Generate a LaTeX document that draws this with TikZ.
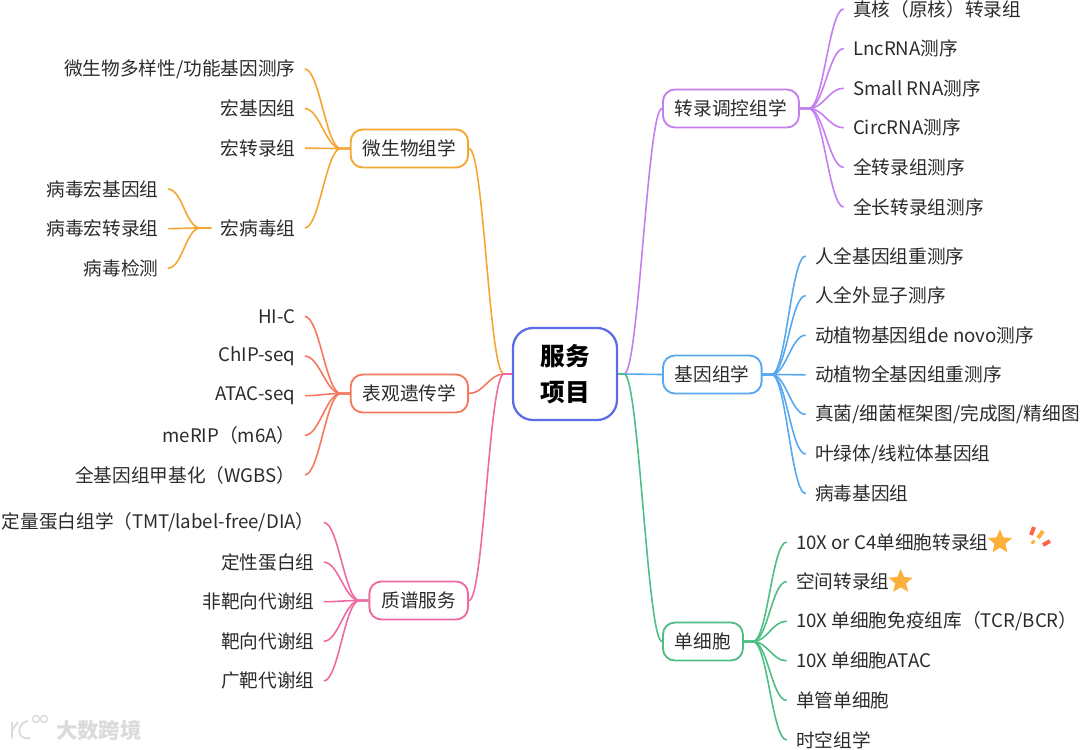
\documentclass[tikz,border=0pt]{standalone}
\usepackage{fontspec}
\setmainfont{Noto Sans CJK SC}
\usetikzlibrary{positioning,shapes.geometric}
\definecolor{Indigo}{HTML}{5B6CE8}
\definecolor{Violet}{HTML}{C47FEE}
\definecolor{Sky}{HTML}{58A8F0}
\definecolor{Mint}{HTML}{4FBE86}
\definecolor{Amber}{HTML}{F5A632}
\definecolor{Coral}{HTML}{F4795F}
\definecolor{Rose}{HTML}{EF6AA2}
\definecolor{Ink}{HTML}{2B2B2B}
\definecolor{Star}{HTML}{FBB03B}
\begin{document}
\begin{tikzpicture}[x=.75pt,y=-.75pt,
 root/.style={rounded corners=15pt,draw=Indigo,line width=1.7pt,minimum width=78pt,minimum height=69pt,align=center,text=black,font=\fontsize{18.5}{27}\selectfont\bfseries},
 hub/.style={rounded corners=9pt,draw=#1,line width=1.4pt,minimum height=28.5pt,inner xsep=9pt,inner ysep=0pt,text=Ink,font=\fontsize{14}{16}\selectfont},
 lr/.style={inner xsep=7pt,inner ysep=0pt,outer sep=0pt,minimum height=29.7pt,anchor=west,text=Ink,font=\fontsize{14}{16}\selectfont},
 ll/.style={lr,anchor=east},
 nr/.style={lr,below=0pt of #1.south west,anchor=north west},
 nl/.style={ll,below=0pt of #1.south east,anchor=north east},
 st/.style={star,star points=5,star point ratio=2.2,fill=Star,inner sep=0pt,minimum size=19pt},
 tor/.style={out=0,in=180,distance=11pt},
 tol/.style={out=180,in=0,distance=11pt},
 w/.style={line width=1.2pt,#1}]
\useasboundingbox (0,0) rectangle (1080,749);
% centre
\node[root] (sv) at (565,374) {服务\\项目};
% right side
\node[hub=Violet,anchor=west] (tr) at (662,108.5) {转录调控组学};
\node[hub=Sky,anchor=west] (ge) at (662,374.5) {基因组学};
\node[hub=Mint,anchor=west] (sc) at (662,641.5) {单细胞};
\node[lr] (t1) at (843.7,9) {真核（原核）转录组};
\node[nr=t1] (t2) {LncRNA测序};
\node[nr=t2] (t3) {Small RNA测序};
\node[nr=t3] (t4) {CircRNA测序};
\node[nr=t4] (t5) {全转录组测序};
\node[nr=t5] (t6) {全长转录组测序};
\node[lr] (g1) at (805.7,256) {人全基因组重测序};
\node[nr=g1] (g2) {人全外显子测序};
\node[nr=g2] (g3) {动植物基因组de novo测序};
\node[nr=g3] (g4) {动植物全基因组重测序};
\node[nr=g4] (g5) {真菌/细菌框架图/完成图/精细图};
\node[nr=g5] (g6) {叶绿体/线粒体基因组};
\node[nr=g6] (g7) {病毒基因组};
\node[lr] (s1) at (786.7,542) {10X or C4单细胞转录组};
\node[nr=s1] (s2) {空间转录组};
\node[nr=s2] (s3) {10X 单细胞免疫组库（TCR/BCR）};
\node[nr=s3] (s4) {10X 单细胞ATAC};
\node[nr=s4] (s5) {单管单细胞};
\node[nr=s5] (s6) {时空组学};
\node[st,right=-4.5pt of s1] (s1x) {};
\node[st,right=-4.5pt of s2] (s2x) {};
% left side
\node[hub=Amber,anchor=east] (mb) at (469,148.5) {微生物组学};
\node[hub=Coral,anchor=east] (ep) at (469,393.5) {表观遗传学};
\node[hub=Rose,anchor=east] (ms) at (469,600.5) {质谱服务};
\node[ll] (m1) at (304.8,69) {微生物多样性/功能基因测序};
\node[nl=m1] (m2) {宏基因组};
\node[nl=m2] (m3) {宏转录组};
\node[ll] (m4) at (304.8,228) {宏病毒组};
\node[ll] (v1) at (167.8,189) {病毒宏基因组};
\node[nl=v1] (v2) {病毒宏转录组};
\node[nl=v2] (v3) {病毒检测};
\node[ll] (e1) at (304.8,316.5) {HI-C};
\node[nl=e1] (e2) {ChIP-seq};
\node[nl=e2] (e3) {ATAC-seq};
\node[nl=e3] (e4) {meRIP（m6A）};
\node[nl=e4] (e5) {全基因组甲基化（WGBS）};
\node[ll] (q1) at (323.8,522.5) {定量蛋白组学（TMT/label-free/DIA）};
\node[nl=q1] (q2) {定性蛋白组};
\node[nl=q2] (q3) {非靶向代谢组};
\node[nl=q3] (q4) {靶向代谢组};
\node[nl=q4] (q5) {广靶代谢组};
% watermark
\node[text=black!14,font=\fontsize{16}{18}\selectfont\bfseries,anchor=west,inner sep=0pt] (wm) at (56,730) {大数跨境};
\draw[black!14,line width=1.4pt] (12,722) -- (12,738) (12,730) -- (18,722);
\draw[black!14,line width=1.4pt] (28,721) .. controls (16,723) and (16,741) .. (30,738);
\draw[black!14,line width=1pt] (36,719) circle (3.5) (44,719) circle (3.5);
% connectors
\draw[w=Violet] (sv.east) -- ++(6,0) to[tor] (tr.west);
\draw[w=Sky] (sv.east) -- (ge.west);
\draw[w=Mint] (sv.east) -- ++(6,0) to[tor] (sc.west);
\draw[w=Amber] (sv.west) -- ++(-8,0) to[tol] (mb.east);
\draw[w=Coral] (sv.west) -- ++(-8,0) to[tol] (ep.east);
\draw[w=Rose] (sv.west) -- ++(-8,0) to[tol] (ms.east);
\foreach \n in {t1,t2,t3,t4,t5,t6}
 \draw[w=Violet] (tr.east) -- ++(9,0) to[tor] (\n.west);
\foreach \n in {g1,g2,g3,g4,g5,g6,g7}
 \draw[w=Sky] (ge.east) -- ++(9,0) to[tor] (\n.west);
\foreach \n in {s1,s2,s3,s4,s5,s6}
 \draw[w=Mint] (sc.east) -- ++(9,0) to[tor] (\n.west);
\foreach \n in {m1,m2,m3,m4}
 \draw[w=Amber] (mb.west) -- ++(-9,0) to[tol] (\n.east);
\foreach \n in {v1,v2,v3}
 \draw[w=Amber] (m4.west) -- ++(-11,0) to[tol] (\n.east);
\foreach \n in {e1,e2,e3,e4,e5}
 \draw[w=Coral] (ep.west) -- ++(-9,0) to[tol] (\n.east);
\foreach \n in {q1,q2,q3,q4,q5}
 \draw[w=Rose] (ms.west) -- ++(-9,0) to[tol] (\n.east);
% sparkle
\draw[line width=3pt,red!75!orange!70] (1034,527) -- (1031,535) (1050,541) -- (1043,545);
\draw[line width=3pt,Star] (1043,531) -- (1038,538) (1032,541) -- (1034,543);
\end{tikzpicture}
\end{document}
